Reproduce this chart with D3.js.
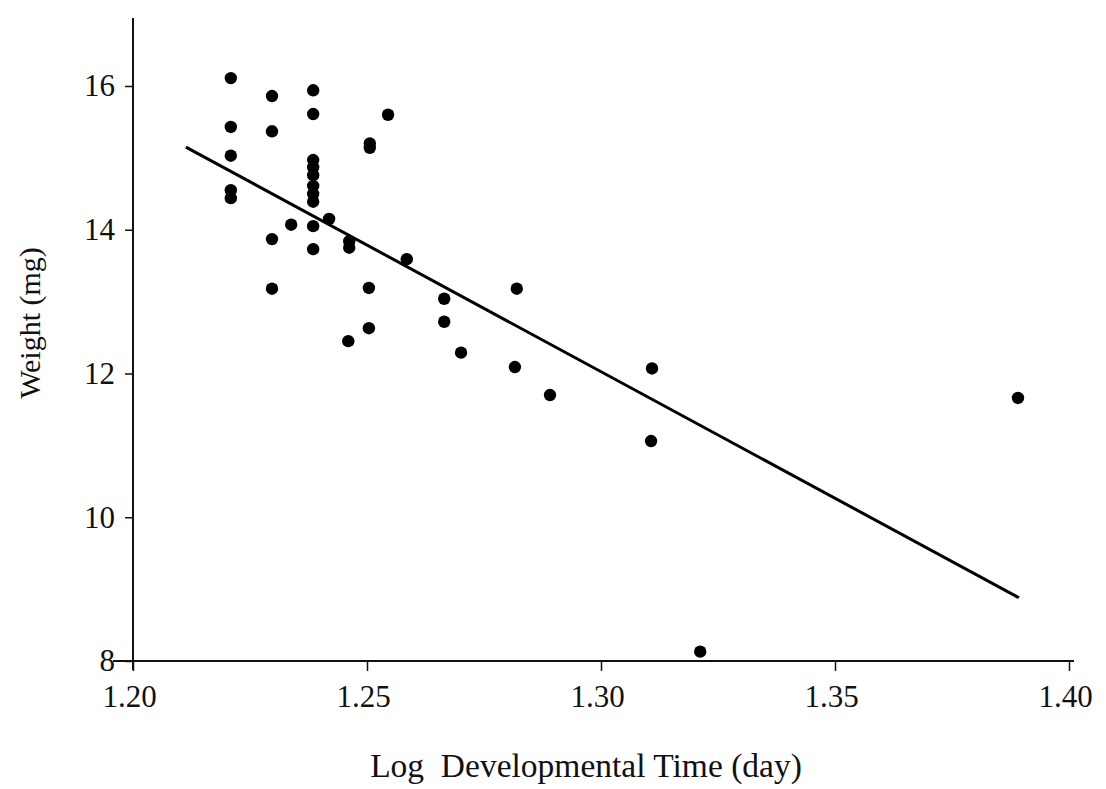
<!DOCTYPE html>
<html><head><meta charset="utf-8">
<script src="https://cdn.jsdelivr.net/npm/d3@7"></script>
<style>body{margin:0;background:#fff}svg{display:block}text{font-family:"Liberation Serif","DejaVu Serif",serif;fill:#111}</style>
</head><body><svg id="c" width="1106" height="789"></svg>
<script>
const logTime = [1.2209,1.2209,1.2209,1.2209,1.2209,
  1.2297,1.2297,1.2297,1.2297,
  1.2338,
  1.2385,1.2385,1.2385,1.2385,1.2385,1.2385,1.2385,1.2385,1.2385,1.2385,
  1.2419,
  1.2462,1.2462,1.2460,
  1.2506,1.2506,1.2545,1.2585,1.2504,1.2504,
  1.2820,1.2665,1.2665,1.2701,1.2816,1.2891,
  1.3109,1.3107,1.3212,1.3891];
const weight = [16.11,15.43,15.03,14.55,14.44,
  15.86,15.37,13.87,13.18,
  14.07,
  15.94,15.61,14.97,14.87,14.76,14.61,14.50,14.39,14.05,13.73,
  14.15,
  13.84,13.75,12.45,
  15.20,15.14,15.60,13.59,13.19,12.63,
  13.18,13.04,12.72,12.29,12.09,11.70,
  12.07,11.06,8.13,11.66];
const fitX = [1.2113,1.3893];
const fitY = [15.15,8.88];
const xTicks = [1.20,1.25,1.30,1.35,1.40];
const yTicks = [8,10,12,14,16];

const svg = d3.select("#c");
const x = d3.scaleLinear().domain([1.20,1.40]).range([133,1069]);
const y = d3.scaleLinear().domain([8,16]).range([661,86]);

// axes
const xa = svg.append("g").attr("transform","translate(0,661)")
  .call(d3.axisBottom(x).tickValues(xTicks).tickFormat(d3.format(".2f")).tickSize(10).tickPadding(14));
xa.select(".domain").remove();
xa.append("line").attr("x1",113).attr("x2",1074).attr("y1",0).attr("y2",0).attr("stroke","#111").attr("stroke-width",2);
xa.selectAll(".tick line").attr("stroke","#111").attr("stroke-width",1.5);
xa.selectAll(".tick text").attr("dx",-4).style("font-size","31px").style("font-family","Liberation Serif").attr("fill","#111");

const ya = svg.append("g").attr("transform","translate(133,0)")
  .call(d3.axisLeft(y).tickValues(yTicks).tickSize(8).tickPadding(10));
ya.select(".domain").remove();
ya.append("line").attr("x1",0).attr("x2",0).attr("y1",18).attr("y2",670).attr("stroke","#111").attr("stroke-width",2);
ya.selectAll(".tick line").attr("stroke","#111").attr("stroke-width",1.5);
ya.selectAll(".tick text").style("font-size","31px").style("font-family","Liberation Serif").attr("fill","#111");

// regression line
svg.append("path")
  .attr("d", d3.line().x(d=>x(d[0])).y(d=>y(d[1]))(fitX.map((v,i)=>[v,fitY[i]])))
  .attr("stroke","#000").attr("stroke-width",3).attr("fill","none");

// points
svg.append("g").selectAll("circle").data(logTime.map((v,i)=>[v,weight[i]])).join("circle")
  .attr("cx",d=>x(d[0])).attr("cy",d=>y(d[1])).attr("r",6.2).attr("fill","#000");

// labels
svg.append("text").attr("x",586).attr("y",777).attr("text-anchor","middle")
  .style("font-size","33.5px").style("white-space","pre").text("Log  Developmental Time (day)");
svg.append("text").attr("transform","translate(40,323) rotate(-90)").attr("text-anchor","middle")
  .style("font-size","30px").text("Weight (mg)");
</script></body></html>
